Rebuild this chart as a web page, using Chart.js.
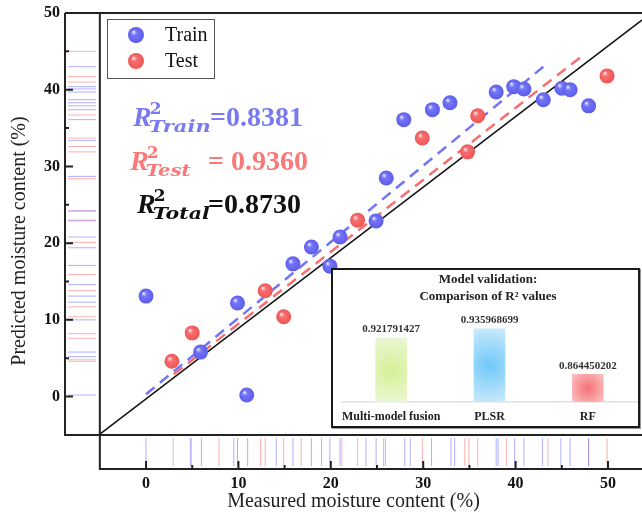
<!DOCTYPE html>
<html>
<head>
<meta charset="utf-8">
<script src="https://cdn.jsdelivr.net/npm/chart.js@4.4.1/dist/chart.umd.min.js"></script>
<style>
  body { margin: 0; background: #fff; }
  #wrap { position: relative; width: 642px; height: 519px; }
  #inset { position: absolute; left: 331px; top: 268px; width: 309px; height: 160px;
           border: 2px solid #1a1a1a; box-sizing: border-box; background: #fff;
           box-shadow: 1px 1px 0 #999; }
</style>
</head>
<body>
<div id="wrap">
  <canvas id="main" width="642" height="519"></canvas>
  <div id="inset"><canvas id="bars" width="305" height="156"></canvas></div>
</div>
<script>
// --- data ---
const trainX = [0, 5.9, 9.9, 10.9, 15.9, 17.9, 19.9, 21.0, 24.9, 26.0, 27.9, 31.0, 32.9, 37.9, 39.8, 40.9, 43.0, 45.0, 45.9, 47.9];
const trainY = [13.1, 5.8, 12.2, 0.2, 17.3, 19.5, 17.0, 20.8, 22.9, 28.5, 36.1, 37.4, 38.3, 39.7, 40.4, 40.1, 38.7, 40.2, 40.0, 37.9];
const testX = [2.8, 5.0, 12.9, 14.9, 22.9, 29.9, 34.8, 35.9, 49.9];
const testY = [4.6, 8.3, 13.8, 10.4, 23.0, 33.7, 31.9, 36.6, 41.8];

// fitted lines (end points) and reference line
const trainFitX = [0, 43];
const trainFitY = [0.3, 43.0];
const testFitX = [3, 47.3];
const testFitY = [2.9, 44.5];
const refX = [-5.1, 53.7];
const refY = [-5, 49.1];

// rug values (marginal distributions)
const rugTrainY = [43.0, 40.4, 40.1, 39.7, 38.7, 38.3, 37.9, 37.4, 36.1, 33.4, 28.7, 24.2, 22.9, 20.8, 19.4, 17.1, 14.6, 13.1, 12.3, 10.0, 5.8, 5.2, 0.2];
const rugTestY = [45.0, 41.7, 41.0, 36.7, 33.7, 32.6, 31.9, 28.4, 24.2, 23.0, 20.1, 15.9, 13.8, 11.7, 10.4, 8.2, 7.6, 4.8, 4.6];
const rugTrainX = [0, 4.8, 6.0, 9.5, 9.9, 11.0, 14.1, 15.9, 17.9, 19.0, 19.9, 21.0, 23.8, 24.9, 25.9, 28.0, 28.6, 30.9, 33.0, 33.4, 37.9, 38.1, 39.9, 40.9, 42.9, 44.9, 45.9, 47.9];
const rugTestX = [2.95, 4.9, 7.9, 12.4, 12.9, 14.9, 16.8, 21.2, 22.9, 25.7, 29.9, 34.5, 34.95, 35.9, 39.0, 43.5, 47.9, 49.9];

const majorTicks = [0, 10, 20, 30, 40, 50];
const minorTicks = [5, 15, 25, 35, 45];

// inset
const models = ['Multi-model fusion', 'PLSR', 'RF'];
const r2Values = [0.921791427, 0.935968699, 0.864450202];

// --- styling ---
const SERIF = '"Liberation Serif", "Times New Roman", serif';
const MATH = '"DejaVu Serif", serif';
const BLUE = 'rgb(116,116,248)';
const RED = 'rgb(248,110,110)';
const rugPosX = -6.93;   // centre of the left rug strip (x units)
const rugPosY = -7.24;   // centre of the bottom rug strip (y units)

function pts(xs, ys) { return xs.map((v, i) => ({ x: v, y: ys[i] })); }

function sphere(ctx, x, y, r, dark, mid) {
  const g = ctx.createRadialGradient(x - r * 0.35, y - r * 0.4, 0, x, y, r);
  g.addColorStop(0, '#f6f6ff');
  g.addColorStop(0.35, mid);
  g.addColorStop(1, dark);
  return g;
}

function pointFill(dark, mid) {
  return function (c) {
    if (c.type !== 'data' || !c.chart.chartArea) return mid;
    const px = c.chart.scales.x.getPixelForValue(c.parsed.x);
    const py = c.chart.scales.y.getPixelForValue(c.parsed.y);
    return sphere(c.chart.ctx, px, py, 7.5, dark, mid);
  };
}

function drawR2(ctx, x, base, sub, subW, val, color) {
  ctx.fillStyle = color;
  ctx.textBaseline = 'alphabetic';
  ctx.textAlign = 'left';
  ctx.font = 'italic bold 28px ' + SERIF;
  ctx.fillText('R', x, base);
  const rw = ctx.measureText('R').width;
  ctx.font = 'bold 17px ' + MATH;
  ctx.fillText('2', x + rw - 2, base - 12);
  ctx.font = 'italic bold 17px ' + MATH;
  const w = ctx.measureText(sub).width;
  ctx.save();
  ctx.translate(x + rw - 3, base + 6);
  ctx.scale(subW / w, 1);
  ctx.fillText(sub, 0, 0);
  ctx.restore();
  ctx.font = 'bold 28px ' + SERIF;
  ctx.fillText(val.text, val.x, base);
}

const decor = {
  id: 'decor',
  afterDatasetsDraw(chart) {
    const { ctx, chartArea: a, scales: { x, y } } = chart;
    const cx = x.getPixelForValue(-5), cy = y.getPixelForValue(-5);
    ctx.save();
    ctx.strokeStyle = '#222';
    ctx.lineWidth = 2;
    ctx.beginPath();
    ctx.moveTo(a.left, a.top); ctx.lineTo(a.right, a.top);
    ctx.moveTo(a.left, a.top); ctx.lineTo(a.left, cy); ctx.lineTo(a.right, cy);
    ctx.moveTo(cx, a.top); ctx.lineTo(cx, a.bottom); ctx.lineTo(a.right, a.bottom);
    ctx.stroke();

    // inward tick marks
    ctx.beginPath();
    majorTicks.forEach(v => {
      const py = y.getPixelForValue(v), px = x.getPixelForValue(v);
      ctx.moveTo(a.left, py); ctx.lineTo(a.left + 8, py);
      ctx.moveTo(px, a.bottom); ctx.lineTo(px, a.bottom - 8);
    });
    minorTicks.forEach(v => {
      const py = y.getPixelForValue(v), px = x.getPixelForValue(v);
      ctx.moveTo(a.left, py); ctx.lineTo(a.left + 4, py);
      ctx.moveTo(px, a.bottom); ctx.lineTo(px, a.bottom - 4);
    });
    ctx.stroke();

    // legend
    ctx.lineWidth = 1;
    ctx.strokeStyle = '#555';
    ctx.strokeRect(107.5, 19.5, 107, 59);
    ctx.fillStyle = sphere(ctx, 136, 35, 8, 'rgb(92,92,234)', BLUE);
    ctx.beginPath(); ctx.arc(136, 35, 8, 0, Math.PI * 2); ctx.fill();
    ctx.fillStyle = sphere(ctx, 136, 61, 8, 'rgb(236,86,86)', RED);
    ctx.beginPath(); ctx.arc(136, 61, 8, 0, Math.PI * 2); ctx.fill();
    ctx.fillStyle = '#111';
    ctx.font = '20px ' + SERIF;
    ctx.textBaseline = 'middle';
    ctx.fillText('Train', 165, 36);
    ctx.fillText('Test', 165, 62);

    // R² annotations
    drawR2(ctx, 133, 126, 'Train', 62, { text: '=0.8381', x: 210 }, 'rgb(122,122,240)');
    drawR2(ctx, 130, 170, 'Test', 45, { text: '= 0.9360', x: 208 }, 'rgb(250,120,120)');
    drawR2(ctx, 137, 213, 'Total', 57, { text: '=0.8730', x: 208 }, '#111');
    ctx.restore();
  }
};

const rug = (xs, ys, color, rot) => ({
  type: 'scatter', data: pts(xs, ys), pointStyle: 'line', pointRadius: 14,
  pointRotation: rot, borderColor: color, borderWidth: 1, order: 5
});

new Chart(document.getElementById('main'), {
  type: 'scatter',
  data: {
    datasets: [
      { label: 'Train', data: pts(trainX, trainY), pointRadius: 7.5, borderWidth: 0,
        backgroundColor: pointFill('rgb(92,92,234)', BLUE), order: 1 },
      { label: 'Test', data: pts(testX, testY), pointRadius: 7.5, borderWidth: 0,
        backgroundColor: pointFill('rgb(236,86,86)', RED), order: 2 },
      { type: 'line', data: pts(trainFitX, trainFitY), borderColor: BLUE, borderWidth: 2.5,
        borderDash: [11, 7], pointRadius: 0, order: 3 },
      { type: 'line', data: pts(testFitX, testFitY), borderColor: RED, borderWidth: 2.5,
        borderDash: [11, 7], pointRadius: 0, order: 3 },
      { type: 'line', data: pts(refX, refY), borderColor: '#111', borderWidth: 1.5,
        pointRadius: 0, order: 4 },
      rug(rugTrainY.map(() => rugPosX), rugTrainY, 'rgba(110,110,255,0.55)', 0),
      rug(rugTestY.map(() => rugPosX), rugTestY, 'rgba(255,110,110,0.55)', 0),
      rug(rugTrainX, rugTrainX.map(() => rugPosY), 'rgba(110,110,255,0.55)', 90),
      rug(rugTestX, rugTestX.map(() => rugPosY), 'rgba(255,110,110,0.55)', 90)
    ]
  },
  options: {
    responsive: false,
    animation: false,
    layout: { autoPadding: false, padding: { top: 13, right: 0, left: 0, bottom: 0 } },
    plugins: { legend: { display: false }, tooltip: { enabled: false } },
    scales: {
      x: {
        type: 'linear', min: -8.77, max: 53.68,
        afterBuildTicks: s => { s.ticks = majorTicks.map(v => ({ value: v })); },
        afterFit: s => { s.height = 50; s.paddingLeft = 0; s.paddingRight = 0; },
        grid: { display: false, drawTicks: false }, border: { display: false },
        ticks: { font: { family: SERIF, size: 16, weight: 'bold' }, color: '#111', padding: 5, maxRotation: 0 },
        title: { display: true, text: 'Measured moisture content (%)', color: '#222',
                 font: { family: SERIF, size: 20 }, padding: { top: 0, bottom: 5 } }
      },
      y: {
        type: 'linear', min: -9.44, max: 50,
        afterBuildTicks: s => { s.ticks = majorTicks.map(v => ({ value: v })); },
        afterFit: s => { s.width = 65; s.paddingTop = 0; s.paddingBottom = 0; },
        grid: { display: false, drawTicks: false }, border: { display: false },
        ticks: { font: { family: SERIF, size: 16, weight: 'bold' }, color: '#111', padding: 5 },
        title: { display: true, text: 'Predicted moisture content (%)', color: '#222',
                 font: { family: SERIF, size: 20 }, padding: { top: 8, bottom: 0 } }
      }
    }
  },
  plugins: [decor]
});

// --- inset bar chart ---
const barCenters = ['rgb(212,240,150)', 'rgb(110,200,248)', 'rgb(244,112,116)'];
const barEdges = ['rgb(238,248,220)', 'rgb(214,238,252)', 'rgb(252,210,210)'];

function barFill(c) {
  if (c.type !== 'data' || !c.chart.chartArea) return barCenters[c.dataIndex || 0];
  const xs = c.chart.scales.x, ys = c.chart.scales.y;
  const px = xs.getPixelForValue(c.dataIndex);
  const top = ys.getPixelForValue(c.raw), bot = ys.getPixelForValue(ys.min);
  const py = (top + bot) / 2;
  const g = c.chart.ctx.createRadialGradient(px, py, 0, px, py, Math.max(24, (bot - top) * 0.6));
  g.addColorStop(0, barCenters[c.dataIndex]);
  g.addColorStop(1, barEdges[c.dataIndex]);
  return g;
}

const valueLabels = {
  id: 'valueLabels',
  afterDatasetsDraw(chart) {
    const ctx = chart.ctx;
    ctx.save();
    ctx.font = 'bold 11px ' + SERIF;
    ctx.fillStyle = '#333';
    ctx.textAlign = 'center';
    ctx.textBaseline = 'bottom';
    chart.getDatasetMeta(0).data.forEach((bar, i) => {
      ctx.fillText(String(r2Values[i]), bar.x, bar.y - 3);
    });
    ctx.restore();
  }
};

new Chart(document.getElementById('bars'), {
  type: 'bar',
  data: {
    labels: models,
    datasets: [{ data: r2Values, backgroundColor: barFill, barThickness: 31 }]
  },
  options: {
    responsive: false,
    animation: false,
    layout: { padding: { left: 6, right: 1, top: 0, bottom: 0 } },
    plugins: {
      legend: { display: false }, tooltip: { enabled: false },
      title: { display: true, text: ['Model validation:', 'Comparison of R\u00b2 values'],
               color: '#222', font: { family: SERIF, size: 13, weight: 'bold', lineHeight: 1.3 },
               padding: { top: 1, bottom: 5 } }
    },
    scales: {
      x: {
        afterFit: s => { s.height = 24; },
        grid: { display: false, drawTicks: false },
        border: { display: true, color: '#e2e2e2', width: 1.5 },
        ticks: { font: { family: SERIF, size: 12, weight: 'bold' }, color: '#222', padding: 8,
                 maxRotation: 0, autoSkip: false }
      },
      y: { display: false, min: 0.821, max: 0.966 }
    }
  },
  plugins: [valueLabels]
});
</script>
</body>
</html>
